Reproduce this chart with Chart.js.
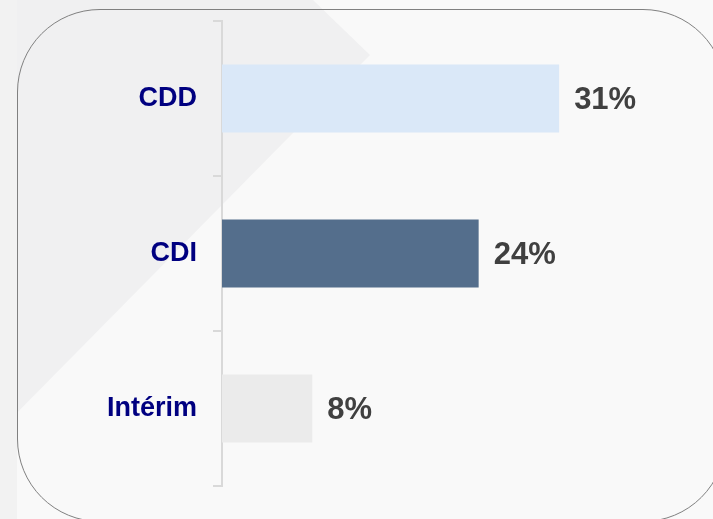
<!DOCTYPE html>
<html>
<head>
<meta charset="utf-8">
<script src="https://cdn.jsdelivr.net/npm/chart.js@4/dist/chart.umd.min.js"></script>
<style>
  html, body { margin:0; padding:0; width:713px; height:519px; overflow:hidden; background:#f9f9f9; }
  #bg1 { position:absolute; left:0; top:0; width:713px; height:519px;
         background:#f0f0f1; clip-path: polygon(0 0, 313px 0, 370px 55px, 0 430px); }
  #strip { position:absolute; left:0; top:0; width:17px; height:519px; background:#f2f2f2; }
  #panel { position:absolute; left:17px; top:9px; width:707px; height:511px;
           border:1.5px solid #808080; border-radius:83px; }
  #wrap { position:absolute; left:0; top:0; width:713px; height:519px; }
</style>
</head>
<body>
<div id="bg1"></div>
<div id="strip"></div>
<div id="panel"></div>
<div id="wrap"><canvas id="c" width="713" height="519"></canvas></div>
<script>
const categories = ["CDD", "CDI", "Intérim"];
const values = [31.0, 23.6, 8.3];
const barColors = ["#dae8f8", "#546e8c", "#ebebeb"];

const valueLabels = {
  id: 'valueLabels',
  afterDatasetsDraw(chart) {
    const ctx = chart.ctx;
    const meta = chart.getDatasetMeta(0);
    ctx.save();
    ctx.font = 'bold 31px "Liberation Sans", Arial, sans-serif';
    ctx.fillStyle = '#404040';
    ctx.textAlign = 'left';
    ctx.textBaseline = 'middle';
    meta.data.forEach((bar, i) => {
      ctx.fillText(Math.round(values[i]) + '%', bar.x + 15, bar.y + 2);
    });
    ctx.restore();
  }
};

new Chart(document.getElementById('c'), {
  type: 'bar',
  data: {
    labels: categories,
    datasets: [{
      data: values,
      backgroundColor: barColors,
      borderWidth: 0,
      categoryPercentage: 1.0,
      barPercentage: 0.44
    }]
  },
  options: {
    indexAxis: 'y',
    responsive: false,
    animation: false,
    layout: { padding: { left: 0, right: 56, top: 21, bottom: 33 } },
    plugins: { legend: { display: false }, tooltip: { enabled: false } },
    scales: {
      x: { display: false, min: 0, max: 40 },
      y: {
        afterFit(scale) { scale.width = 222; scale.paddingTop = 0; scale.paddingBottom = 0; },
        border: { display: true, color: '#d9d9d9', width: 2 },
        grid: { display: true, drawOnChartArea: false, drawTicks: true, tickLength: 9, color: '#d9d9d9', lineWidth: 2, offset: true },
        ticks: {
          color: '#000080',
          padding: 16,
          font: { family: '"Liberation Sans", Arial, sans-serif', size: 27, weight: 'bold' }
        }
      }
    }
  },
  plugins: [valueLabels]
});
</script>
</body>
</html>
